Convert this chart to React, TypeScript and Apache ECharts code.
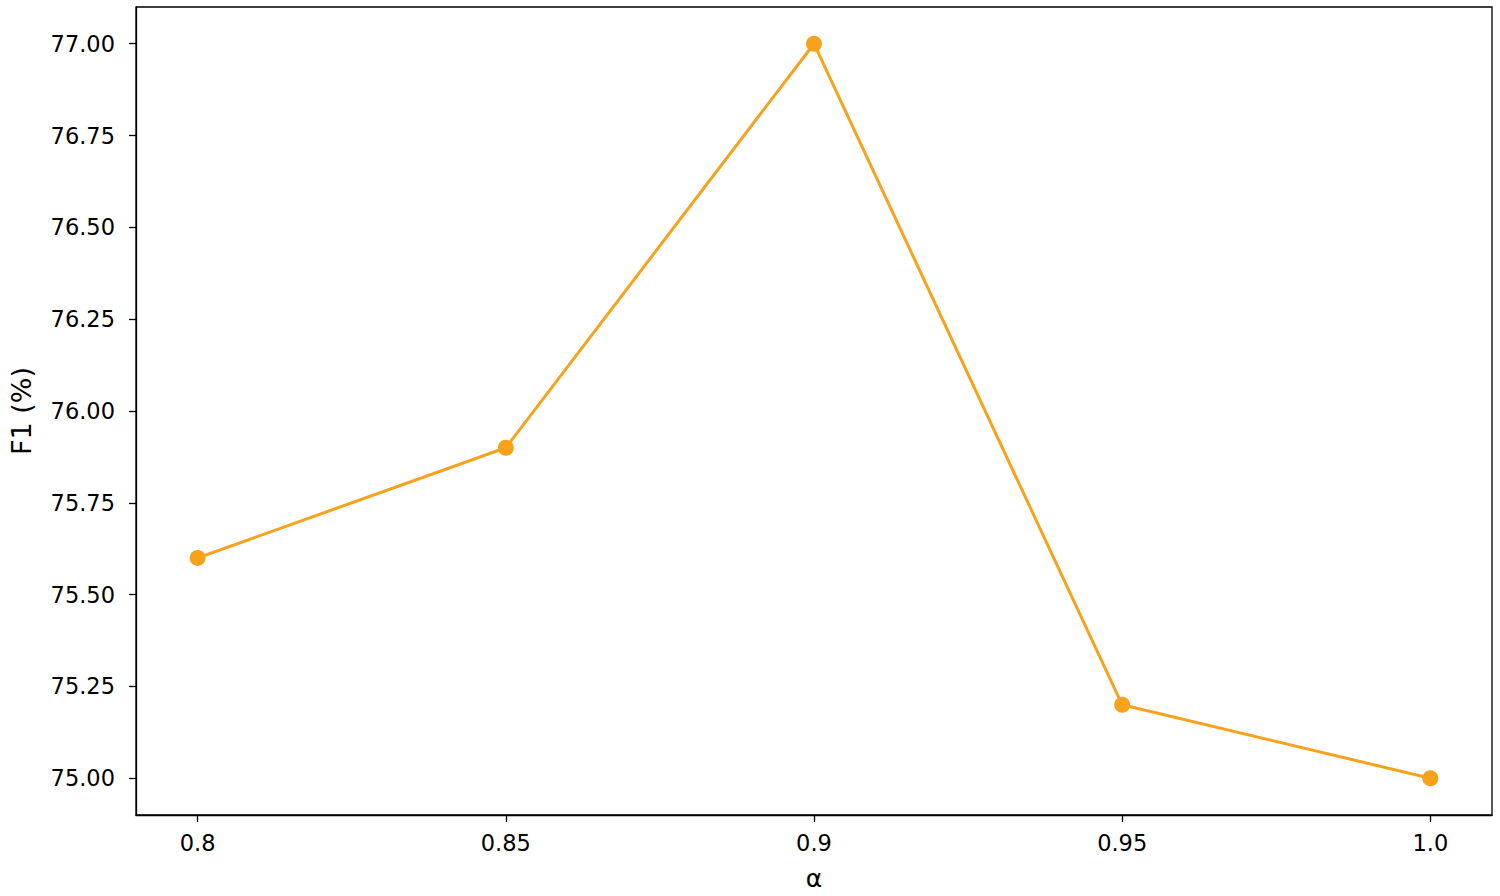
import React, { useEffect, useRef } from "react";
import * as echarts from "echarts";

const alphaValues = [0.8, 0.85, 0.9, 0.95, 1.0];
const alphaLabels = ["0.8", "0.85", "0.9", "0.95", "1.0"];
const f1Values = [75.6, 75.9, 77.0, 75.2, 75.0];
const yTicks = [75.0, 75.25, 75.5, 75.75, 76.0, 76.25, 76.5, 76.75, 77.0];

const FONT = "DejaVu Sans";
const LINE_COLOR = "#f8a21c";

export default function App() {
  const ref = useRef<HTMLDivElement>(null);
  useEffect(() => {
    document.body.style.margin = "0";
    const chart = echarts.init(ref.current!, null, { renderer: "svg" });
    chart.setOption({
      animation: false,
      backgroundColor: "#ffffff",
      grid: {
        left: 135,
        right: 8,
        top: 7,
        bottom: 80,
        show: true,
        borderColor: "#000",
        borderWidth: 1.3,
        backgroundColor: "transparent",
      },
      xAxis: {
        type: "value",
        min: 0.79,
        max: 1.01,
        name: "α",
        nameLocation: "middle",
        nameGap: 51,
        nameTextStyle: { fontFamily: FONT, fontSize: 25, color: "#000" },
        axisLine: { show: true, lineStyle: { color: "#000", width: 1.3 } },
        axisTick: {
          show: true,
          length: 7,
          lineStyle: { color: "#000", width: 1.3 },
          customValues: alphaValues,
        },
        axisLabel: {
          customValues: alphaValues,
          margin: 16,
          fontFamily: FONT,
          fontSize: 22.5,
          color: "#000",
          formatter: (v: number) => {
            const i = alphaValues.findIndex((a) => Math.abs(a - v) < 1e-6);
            return i >= 0 ? alphaLabels[i] : "";
          },
        },
        splitLine: { show: false },
      },
      yAxis: {
        type: "value",
        min: 74.9,
        max: 77.1,
        name: "F1 (%)",
        nameLocation: "middle",
        nameGap: 101,
        nameTextStyle: { fontFamily: FONT, fontSize: 27, color: "#000" },
        axisLine: { show: true, lineStyle: { color: "#000", width: 1.3 } },
        axisTick: {
          show: true,
          length: 7,
          lineStyle: { color: "#000", width: 1.3 },
          customValues: yTicks,
        },
        axisLabel: {
          customValues: yTicks,
          margin: 21,
          fontFamily: FONT,
          fontSize: 22.5,
          color: "#000",
          formatter: (v: number) => v.toFixed(2),
        },
        splitLine: { show: false },
      },
      series: [
        {
          type: "line",
          data: alphaValues.map((a, i) => [a, f1Values[i]]),
          symbol: "circle",
          symbolSize: 16,
          lineStyle: { color: LINE_COLOR, width: 3 },
          itemStyle: { color: LINE_COLOR },
        },
      ],
    });
    return () => chart.dispose();
  }, []);
  return <div ref={ref} style={{ width: 1500, height: 896 }} />;
}
